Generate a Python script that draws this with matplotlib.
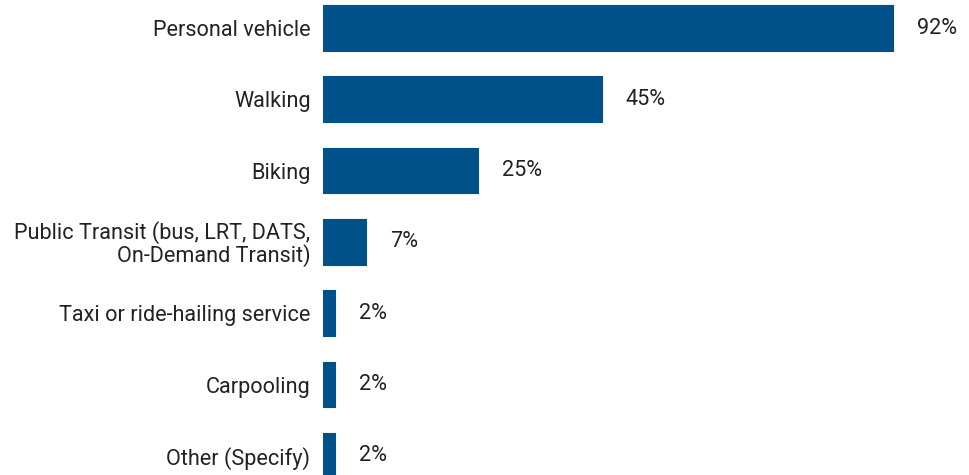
import matplotlib
matplotlib.use('Agg')
import matplotlib.pyplot as plt

# data
# ======================
categories = ['Personal vehicle', 'Walking', 'Biking',
              'Public Transit (bus, LRT, DATS,\nOn-Demand Transit)',
              'Taxi or ride-hailing service', 'Carpooling', 'Other (Specify)']
shares = [92, 45, 25, 7, 2, 2, 2]
value_labels = ['92%', '45%', '25%', '7%', '2%', '2%', '2%']

BAR_COLOR = '#00508a'
TEXT_COLOR = '#222222'

plt.rcParams['font.family'] = ['Roboto', 'DejaVu Sans']

fig = plt.figure(figsize=(9.7, 4.75), dpi=100)
ax = fig.add_axes([323 / 970, 0, 1 - 323 / 970, 1])

positions = list(range(len(categories)))
bars = ax.barh(positions, shares, height=0.64, color=BAR_COLOR,
               edgecolor=BAR_COLOR, linewidth=0.8)
for b in bars:
    b.set_joinstyle('round')

# value labels
for pos, val, txt in zip(positions, shares, value_labels):
    ax.annotate(txt, (val, pos), xytext=(17, 0), textcoords='offset points',
                ha='left', va='center', fontsize=15.6, color=TEXT_COLOR)

ax.set_yticks(positions)
ax.set_yticklabels(categories, fontsize=15.6, color=TEXT_COLOR, linespacing=0.95)
ax.tick_params(axis='y', length=0, pad=9)
ax.set_xticks([])
ax.set_xlim(0, 647 / (570 / 92))
ax.set_ylim(447 / 71.3, -28 / 71.3)
for s in ax.spines.values():
    s.set_visible(False)

fig.savefig('out.png', dpi=100)
